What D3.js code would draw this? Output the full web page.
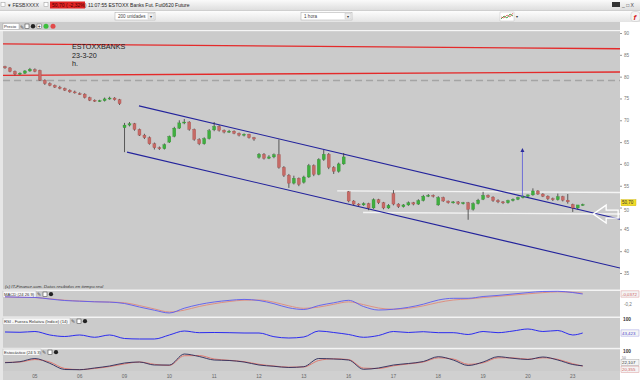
<!DOCTYPE html>
<html><head><meta charset="utf-8">
<script src="https://cdn.jsdelivr.net/npm/d3@7"></script>
<style>html,body{margin:0;padding:0;background:#e6e6e6;overflow:hidden}svg{display:block;font-family:"Liberation Sans",Arial,sans-serif}</style>
</head><body><svg id="c" width="640" height="380"></svg>
<script>
// ---------- DATA ----------
const dayLabels = ["05","06","09","10","11","12","13","16","17","18","19","20","23"];
const dayStart  = [6,15,24,33,42,51,60,69,78,87,96,105,114];

const openP = [82.3,82.0,81.2,80.6,80.8,81.3,
 81.6,81.4,79.2,78.4,78.0,77.6,77.3,76.9,76.5,
 76.1,76.0,75.2,74.6,74.4,74.5,74.9,75.1,74.7,
 68.3,68.9,69.2,67.9,66.6,66.0,64.6,63.7,63.5,
 65.0,66.3,68.2,69.4,69.6,67.9,65.6,64.6,65.8,
 67.8,68.6,67.7,67.3,67.5,67.0,66.6,66.8,66.0,
 61.5,62.2,61.3,61.6,62.1,59.2,57.4,55.6,56.7,
 55.8,57.0,59.6,57.6,61.0,62.2,59.2,58.3,60.0,
 53.6,51.5,50.8,50.6,50.9,49.9,51.8,51.1,49.9,
 53.2,50.8,50.2,50.6,51.1,50.8,51.6,52.6,52.8,
 50.6,52.3,51.5,51.1,51.3,50.9,51.1,49.6,50.9,
 51.9,52.8,52.4,51.6,51.3,51.1,51.6,51.9,52.3,
 52.6,52.9,53.8,53.1,52.6,52.0,51.8,52.5,51.7,
 50.7,49.9,50.6];
const highP = [82.5,82.2,81.4,81.0,81.5,82.0,
 81.9,81.6,79.4,78.7,78.2,77.9,77.5,77.1,76.8,
 76.4,76.2,75.4,74.8,74.7,75.2,75.4,75.3,74.9,
 69.4,69.6,69.4,68.1,66.9,66.3,64.9,64.0,64.7,
 66.5,68.5,70.0,70.3,69.8,68.1,65.9,66.1,68.0,
 69.6,68.9,67.9,67.8,67.7,67.2,67.0,66.9,66.2,
 62.5,62.5,62.0,62.4,65.6,59.5,57.7,57.3,56.9,
 57.3,60.0,59.9,61.3,63.2,62.5,59.5,60.3,62.5,
 53.8,51.7,51.0,51.2,51.1,52.1,52.0,51.3,50.8,
 54.0,51.0,50.8,51.4,51.3,51.9,52.9,53.1,53.0,
 52.6,52.5,51.6,51.5,51.5,51.3,51.3,51.2,52.0,
 53.6,53.0,52.6,51.9,51.5,51.8,52.1,52.5,52.8,
 53.0,54.4,54.0,53.3,52.8,52.3,53.2,52.7,53.1,
 50.9,50.3,50.9];
const lowP = [81.8,81.0,80.3,80.4,80.6,81.1,
 81.0,79.0,78.1,77.8,77.4,77.1,76.7,76.3,76.1,
 75.8,75.0,74.4,74.2,74.2,74.3,74.7,74.5,73.5,
 62.7,68.6,67.6,66.4,65.7,64.4,63.3,63.2,63.3,
 64.8,66.1,68.0,69.1,67.6,65.3,64.3,64.4,65.6,
 67.5,67.4,67.0,67.1,66.8,66.3,66.3,65.8,65.3,
 61.2,61.0,61.1,61.3,58.9,57.0,54.5,55.3,54.9,
 55.5,56.8,57.2,57.4,60.7,58.8,57.7,58.0,59.8,
 51.2,50.5,50.3,50.4,49.4,49.7,50.8,49.6,49.7,
 50.5,49.9,50.0,50.4,50.5,50.6,51.4,52.4,52.3,
 50.4,51.3,50.9,50.9,50.6,50.7,47.2,49.3,50.7,
 51.7,52.2,51.3,51.0,50.8,50.9,51.4,51.7,52.1,
 52.3,52.7,52.9,52.4,51.7,51.5,51.6,51.4,50.9,
 49.0,49.6,50.4];
const closeP = [82.0,81.2,80.6,80.8,81.3,81.7,
 81.2,79.2,78.4,78.0,77.6,77.3,76.9,76.5,76.3,
 76.0,75.2,74.6,74.4,74.5,74.9,75.1,74.7,73.8,
 68.9,69.2,67.9,66.6,66.0,64.6,63.7,63.5,64.4,
 66.3,68.2,69.4,69.6,67.9,65.6,64.6,65.8,67.6,
 68.6,67.7,67.3,67.5,67.0,66.6,66.8,66.0,65.7,
 62.2,61.3,61.6,62.1,59.2,57.4,55.6,56.7,55.3,
 57.0,59.6,57.6,61.0,62.2,59.2,58.3,60.0,61.6,
 51.5,50.8,50.6,50.9,49.9,51.8,51.1,49.9,50.5,
 50.8,50.2,50.6,51.1,50.8,51.6,52.6,52.8,52.6,
 52.3,51.5,51.1,51.3,50.9,51.1,49.6,50.9,51.7,
 52.8,52.4,51.6,51.3,51.1,51.6,51.9,52.3,52.5,
 52.9,53.8,53.1,52.6,52.0,51.8,52.5,51.7,51.3,
 49.9,50.6,50.7];
const priceTicks = [90,85,80,75,70,65,60,55,50,45,40,35];

const indIdx = [0,3,6,9,12,15,18,21,24,27,30,33,36,39,42,45,48,51,54,57,60,63,66,69,72,75,78,81,84,87,90,93,96,99,102,105,108,111,114,116];
const macdLine = [-0.083,-0.089,-0.093,-0.119,-0.143,-0.154,-0.164,-0.169,-0.192,-0.249,-0.301,-0.346,-0.268,-0.208,-0.167,-0.141,-0.125,-0.143,-0.195,-0.262,-0.289,-0.225,-0.180,-0.140,-0.241,-0.298,-0.285,-0.254,-0.203,-0.135,-0.107,-0.107,-0.078,-0.060,-0.037,-0.014,0.004,0.007,-0.013,-0.037];
const macdSignal = [-0.085,-0.090,-0.095,-0.115,-0.138,-0.152,-0.162,-0.168,-0.180,-0.225,-0.280,-0.330,-0.300,-0.240,-0.195,-0.160,-0.138,-0.135,-0.170,-0.230,-0.270,-0.250,-0.205,-0.165,-0.210,-0.265,-0.285,-0.270,-0.230,-0.175,-0.135,-0.118,-0.095,-0.075,-0.055,-0.035,-0.015,-0.002,-0.008,-0.025];
const rsiVals = [47.5,46.3,49.5,35.4,29.3,35.4,26.1,35.4,21.2,19.2,19.2,35.4,51.5,44.7,45.5,44.7,43.4,43.4,28.5,23.2,27.3,51.5,45.5,37.4,26.1,33.3,49.5,45.5,48.7,44.7,44.7,37.4,49.5,44.7,51.5,59.6,49.5,53.5,35.4,43.4];
const stochK = [38.4,43.7,60.5,35.2,2.6,1.6,10.5,21,36.8,42,26.3,26,84,71,52.6,50,42,26.3,19.5,13.2,17.4,60.5,57.9,52.6,3.7,10.5,26.3,34.2,44.7,70,52.6,23.7,42,70,61.5,55.2,68.4,52.6,28.9,22.1];
const stochD = [40,42,55,42,8,2,8,18,32,42,30,24,75,76,58,51,44,30,21,15,16,50,59,55,10,8,22,32,42,64,58,30,38,64,64,57,64,56,33,20.4];

// drawn annotations: [index, price] pairs
const redLineTop   = [[-0.4,87.5],[123.5,86.4]];
const redLineLow   = [[-0.4,80.3],[123.5,81.05]];
const greyDashed   = [[-0.4,79.1],[123.5,79.1]];
const chanUpper    = [[26.9,73.3],[123.5,47.3]];
const chanLower    = [[24.5,62.7],[123.5,36.15]];
const whiteUpper   = [[66.7,53.8],[123.5,53.45]];
const whiteLower   = [[71.9,48.87],[123.5,48.52]];
const targetArrow  = [[103.9,52.5],[103.9,63.1]];
const bigArrowTip  = [118.1,48.5];
const noteLines = ["ESTOXXBANKS","23-3-20","h."];

// ---------- SCALES ----------
const svg = d3.select("#c");
const xS = d3.scaleLinear().domain([0,116]).range([5,582.7]);
const yP = d3.scaleLinear().domain([32.71,90.69]).range([283,30]);
const yM = d3.scaleLinear().domain([-0.395,0.028]).range([316,290]);
const yR = d3.scaleLinear().domain([-17.2,108.1]).range([348,317]);
const yS = d3.scaleLinear().domain([-5.26,110.5]).range([371,349]);

const defs = svg.append("defs");
const g1 = defs.append("linearGradient").attr("id","tb").attr("x1",0).attr("y1",0).attr("x2",0).attr("y2",1);
g1.append("stop").attr("offset","0").attr("stop-color","#fafafa");
g1.append("stop").attr("offset","1").attr("stop-color","#dedede");
const g2 = defs.append("linearGradient").attr("id","tb2").attr("x1",0).attr("y1",0).attr("x2",0).attr("y2",1);
g2.append("stop").attr("offset","0").attr("stop-color","#ffffff");
g2.append("stop").attr("offset","1").attr("stop-color","#e4e4e4");
defs.append("clipPath").attr("id","mainClip").append("rect").attr("x",3).attr("y",31).attr("width",617).attr("height",258);

// ---------- CHROME ----------
svg.append("rect").attr("x",0).attr("y",0).attr("width",640).attr("height",380).attr("fill","#e6e6e6");
svg.append("rect").attr("x",0).attr("y",0).attr("width",640).attr("height",10).attr("fill","url(#tb)");
svg.append("rect").attr("x",0).attr("y",10).attr("width",640).attr("height",12).attr("fill","url(#tb2)");
svg.append("line").attr("x1",0).attr("x2",640).attr("y1",10.5).attr("y2",10.5).attr("stroke","#cfcfcf");
// title bar
svg.append("rect").attr("x",1).attr("y",2.5).attr("width",4).attr("height",4).attr("fill","#fff").attr("stroke","#999").attr("stroke-width",0.5);
svg.append("text").attr("x",8).attr("y",7).attr("font-size",5).attr("fill","#333").text("▾ FESBXXXX");
svg.append("rect").attr("x",44).attr("y",2.5).attr("width",4).attr("height",4).attr("fill","#fff").attr("stroke","#999").attr("stroke-width",0.5);
svg.append("rect").attr("x",50).attr("y",1.5).attr("width",35).attr("height",7).attr("fill","#e02424");
svg.append("text").attr("x",52).attr("y",7).attr("font-size",5).attr("fill","#4a0000").text("50,70 ( -2,32%)");
svg.append("text").attr("x",88).attr("y",7).attr("font-size",5).attr("fill","#222").text("11:07:55 ESTOXX Banks Fut. Fut0620 Future");
svg.append("rect").attr("x",612).attr("y",2).attr("width",8).attr("height",5).attr("fill","#333");
svg.append("text").attr("x",622).attr("y",7).attr("font-size",5).attr("fill","#444").text("_ □ X");
// toolbar row
function dropdown(x,w,label){
  svg.append("rect").attr("x",x).attr("y",12.5).attr("width",w).attr("height",7.5).attr("fill","#fff").attr("stroke","#a8a8a8").attr("stroke-width",0.5);
  svg.append("text").attr("x",x+3).attr("y",18.3).attr("font-size",4.6).attr("fill","#444").text(label);
  svg.append("rect").attr("x",x+w-7).attr("y",13.5).attr("width",6).attr("height",5.5).attr("fill","#eee").attr("stroke","#bbb").attr("stroke-width",0.4);
  svg.append("text").attr("x",x+w-5.5).attr("y",18).attr("font-size",3.5).attr("fill","#333").text("▾");
}
dropdown(115,40,"200 unidades");
dropdown(301,51,"1 hora");
svg.append("rect").attr("x",500).attr("y",12).attr("width",14).attr("height",9).attr("fill","#fff").attr("stroke","#bbb").attr("stroke-width",0.4);
svg.append("path").attr("d","M501,19 L504,16 L507,18 L510,14 L513,16").attr("fill","none").attr("stroke","#2a9a2a").attr("stroke-width",0.8);
svg.append("path").attr("d","M501,17 L504,18 L507,15 L510,17 L513,13").attr("fill","none").attr("stroke","#d03030").attr("stroke-width",0.6);
svg.append("text").attr("x",515.5).attr("y",18).attr("font-size",3.5).attr("fill","#333").text("▾");
svg.append("rect").attr("x",631).attr("y",11.5).attr("width",9).attr("height",10).attr("rx",3).attr("fill","#f4f4f4").attr("stroke","#bbb").attr("stroke-width",0.4);
svg.append("text").attr("x",633.5).attr("y",20).attr("font-size",8).attr("font-style","italic").attr("font-weight","bold").attr("fill","#d82020").text("f");
// precio row
svg.append("rect").attr("x",0).attr("y",22).attr("width",620).attr("height",9).attr("fill","#cbcbcb");
svg.append("rect").attr("x",3).attr("y",23.5).attr("width",16).attr("height",6).attr("fill","#fff").attr("stroke","#999").attr("stroke-width",0.4);
svg.append("text").attr("x",4).attr("y",28.3).attr("font-size",4.3).attr("fill","#333").text("Precio");
svg.append("text").attr("x",19.5).attr("y",28.5).attr("font-size",5).attr("fill","#555").text("✎");
svg.append("rect").attr("x",25).attr("y",24).attr("width",4).attr("height",4.5).attr("fill","#fff").attr("stroke","#333").attr("stroke-width",0.5);
svg.append("circle").attr("cx",33).attr("cy",26.3).attr("r",2.2).attr("fill","#222");
svg.append("rect").attr("x",37).attr("y",24).attr("width",4.5).attr("height",4.5).attr("fill","#fff").attr("stroke","#444").attr("stroke-width",0.4);
svg.append("text").attr("x",37.8).attr("y",28.3).attr("font-size",5).attr("fill","#000").text("+");
svg.append("circle").attr("cx",46).attr("cy",26.3).attr("r",2.5).attr("fill","#3cbf3c");
svg.append("circle").attr("cx",53).attr("cy",26.3).attr("r",2.5).attr("fill","#e24a4a");
// right axis column
svg.append("rect").attr("x",620).attr("y",22).attr("width",20).attr("height",358).attr("fill","#ffffff");
// panels backgrounds
svg.append("rect").attr("x",3).attr("y",31).attr("width",617).attr("height",340).attr("fill","#cbcbcb");
svg.append("rect").attr("x",0).attr("y",30).attr("width",620).attr("height",1.2).attr("fill","#f6f6f6");
svg.append("rect").attr("x",3).attr("y",371).attr("width",617).attr("height",9).attr("fill","#d0d0d0");
[289.5,316.5,347.8].forEach(y=>svg.append("rect").attr("x",3).attr("y",y).attr("width",617).attr("height",1.5).attr("fill","#f4f4f4"));

// ---------- MAIN CHART ----------
const main = svg.append("g").attr("clip-path","url(#mainClip)");
const seg = (pts,color,w,dash)=>main.append("line")
  .attr("x1",xS(pts[0][0])).attr("y1",yP(pts[0][1])).attr("x2",xS(pts[1][0])).attr("y2",yP(pts[1][1]))
  .attr("stroke",color).attr("stroke-width",w).attr("stroke-dasharray",dash||null);
seg(greyDashed,"#a4a4a4",1.4,"7,4");
seg(redLineTop,"#e42a2a",1.4);
seg(redLineLow,"#e42a2a",1.4);
seg(whiteUpper,"#f4f4f4",1.3);
seg(whiteLower,"#f4f4f4",1.3);
seg(chanUpper,"#23239c",1.1);
seg(chanLower,"#23239c",1.1);

// candles
const idx = d3.range(closeP.length);
const cg = main.append("g");
cg.selectAll("line.w").data(idx).join("line")
  .attr("x1",i=>xS(i)).attr("x2",i=>xS(i))
  .attr("y1",i=>yP(highP[i])).attr("y2",i=>yP(lowP[i]))
  .attr("stroke","#3a3a3a").attr("stroke-width",0.8);
cg.selectAll("rect.b").data(idx).join("rect")
  .attr("x",i=>xS(i)-1.5).attr("width",3)
  .attr("y",i=>yP(Math.max(openP[i],closeP[i])))
  .attr("height",i=>Math.max(1,Math.abs(yP(openP[i])-yP(closeP[i]))))
  .attr("fill",i=>closeP[i]>=openP[i]?"#3fae3f":"#c66a66")
  .attr("stroke",i=>closeP[i]>=openP[i]?"#2d8a2d":"#a04a46").attr("stroke-width",0.3);

// target arrow
main.append("line").attr("x1",xS(targetArrow[0][0])).attr("x2",xS(targetArrow[1][0]))
  .attr("y1",yP(targetArrow[0][1])).attr("y2",yP(targetArrow[1][1]))
  .attr("stroke","#6464d8").attr("stroke-width",0.9);
{
  const ax = xS(targetArrow[1][0]), ay = yP(targetArrow[1][1]);
  main.append("path").attr("d",`M${ax},${ay-2.5} L${ax-2},${ay+1.5} L${ax+2},${ay+1.5} Z`).attr("fill","#2a2a9a");
}
// big white arrow (pointing left)
{
  const tx = xS(bigArrowTip[0]), ty = yP(bigArrowTip[1]);
  const p = [[tx,ty],[tx+13,ty-9],[tx+13,ty-4],[tx+25,ty-4],[tx+25,ty+4],[tx+13,ty+4],[tx+13,ty+9]];
  svg.append("path").attr("d","M"+p.map(d=>d.join(",")).join("L")+"Z")
    .attr("fill","none").attr("stroke","#ffffff").attr("stroke-width",1.3);
}
// note text
svg.selectAll("text.note").data(noteLines).join("text")
  .attr("x",72).attr("y",(d,i)=>49+i*8.6).attr("font-size",7.2).attr("fill","#1a1a1a").text(d=>d);

// price axis
const pa = svg.append("g").attr("transform","translate(620,0)")
  .call(d3.axisRight(yP).tickValues(priceTicks).tickSize(2).tickPadding(2));
pa.select(".domain").remove();
pa.selectAll("line").attr("stroke","#999");
pa.selectAll("text").attr("font-size",4.6).attr("fill","#777").attr("font-family","Liberation Sans, Arial");
pa.selectAll("text").filter(d=>d===50).attr("dy","0.75em");
// last price label
{
  const ly = yP(closeP[closeP.length-1]) - 1.8;
  svg.append("rect").attr("x",621).attr("y",ly-3.1).attr("width",15).attr("height",6.2).attr("fill","#f2dc2a").attr("stroke","#c8b000").attr("stroke-width",0.4);
  svg.append("text").attr("x",622).attr("y",ly+1.6).attr("font-size",4.5).attr("fill","#333").text("50,70");
}

// ---------- INDICATORS ----------
svg.append("text").attr("x",5).attr("y",288).attr("font-size",4.4).attr("font-style","italic").attr("fill","#333")
  .text("(c) IT-Finance.com. Datos recibidos en tiempo real");
function panelLabel(y,w,label){
  svg.append("rect").attr("x",3).attr("y",y).attr("width",w).attr("height",6.5).attr("fill","#f7f7f7").attr("stroke","#aaa").attr("stroke-width",0.4);
  svg.append("text").attr("x",4).attr("y",y+4.9).attr("font-size",4.2).attr("fill","#333").text(label);
  svg.append("text").attr("x",w+4).attr("y",y+5.2).attr("font-size",5).attr("fill","#555").text("✎");
  svg.append("rect").attr("x",w+10).attr("y",y+1).attr("width",4).attr("height",4.5).attr("fill","#fff").attr("stroke","#333").attr("stroke-width",0.5);
  svg.append("circle").attr("cx",w+18).attr("cy",y+3.2).attr("r",2.1).attr("fill","#222");
}
panelLabel(291,33,"MACD (24 26 9)");
panelLabel(318,67,"RSI - Fuerza Relativa (Indice) (14)");
panelLabel(349,38,"Estocástico (24 5 3)");

const lineG = (ys,vals,color,w)=>svg.append("path").datum(indIdx.map((d,i)=>[d,vals[i]]))
  .attr("d",d3.line().x(d=>xS(d[0])).y(d=>ys(d[1])).curve(d3.curveMonotoneX))
  .attr("fill","none").attr("stroke",color).attr("stroke-width",w);
lineG(yM,macdSignal,"#e08a7a",0.9);
lineG(yM,macdLine,"#5a5af0",0.9);
lineG(yR,rsiVals,"#2b2bf0",1.0);
lineG(yS,stochD,"#e07a70",1.0);
lineG(yS,stochK,"#2a2a5a",0.9);

// indicator axis labels
function boxLabel(y,text,color,border){
  svg.append("rect").attr("x",621).attr("y",y-3.1).attr("width",18).attr("height",6.2).attr("fill","#f4f4f4").attr("stroke",border).attr("stroke-width",0.4);
  svg.append("text").attr("x",622).attr("y",y+1.6).attr("font-size",4.4).attr("fill",color).text(text);
}
boxLabel(yM(macdLine[macdLine.length-1]),"-0,0372","#d06060","#d08080");
svg.append("text").attr("x",624).attr("y",yM(-0.2)+1.7).attr("font-size",4.6).attr("fill","#777").text("-0,2");
svg.append("text").attr("x",623).attr("y",yR(100)+1.7).attr("font-size",4.8).attr("font-weight","bold").attr("fill","#333").text("100");
boxLabel(yR(rsiVals[rsiVals.length-1]),"43,423","#4a4ad0","#8888dd");
svg.append("text").attr("x",623).attr("y",yS(100)+1.7).attr("font-size",4.8).attr("font-weight","bold").attr("fill","#333").text("100");
svg.append("text").attr("x",622).attr("y",358.6).attr("font-size",3.4).attr("fill","#777").text("50");
boxLabel(362.6,"22,107","#333","#999");
boxLabel(369.2,"20,355","#d06060","#d08080");

// x axis day labels
svg.selectAll("text.day").data(dayLabels).join("text")
  .attr("x",(d,i)=>xS(dayStart[i])).attr("y",378).attr("text-anchor","middle")
  .attr("font-size",4.8).attr("fill","#666").text(d=>d);
</script></body></html>
